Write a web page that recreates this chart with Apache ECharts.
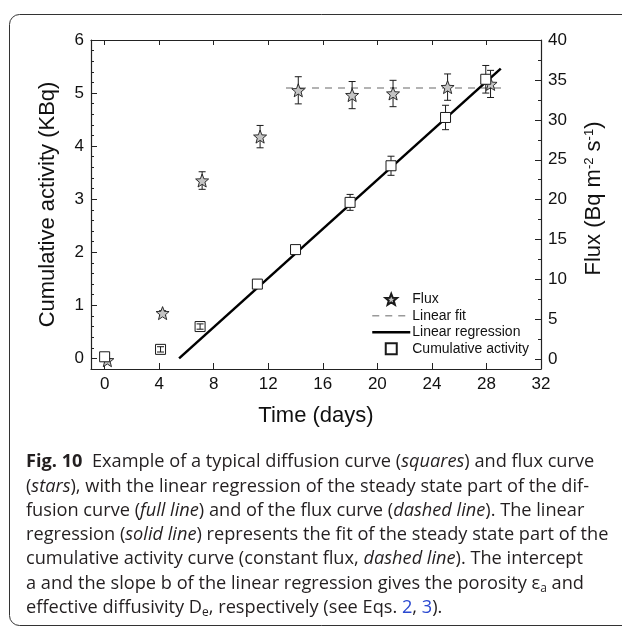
<!DOCTYPE html>
<html><head><meta charset="utf-8">
<script src="https://cdn.jsdelivr.net/npm/echarts@6/dist/echarts.min.js"></script>
<style>html,body{margin:0;padding:0;background:#fff}#c{width:622px;height:628px}</style>
</head><body><div id="c"></div>
<script>
// ---- data ----
const actDays   = [0.0, 4.1, 7.0, 11.2, 14.0, 18.0, 21.0, 25.0, 27.95];
const actValues = [0.03, 0.17, 0.60, 1.40, 2.05, 2.94, 3.63, 4.54, 5.26];
const actErrors = [0, 0.05, 0.05, 0.05, 0.06, 0.15, 0.18, 0.23, 0.26];
const actFront  = [false, true, true, false, false, false, false, false, false];
const fluxDays   = [0.2, 4.25, 7.15, 11.4, 14.2, 18.15, 21.15, 25.15, 28.3];
const fluxValues = [-0.1, 5.8, 22.4, 27.9, 33.7, 33.1, 33.3, 34.1, 34.5];
const fluxErrors = [0, 0.3, 1.1, 1.4, 1.7, 1.7, 1.65, 1.65, 1.7];
const fitX = [13.3, 29.5];
const fitY = [34.0, 34.0];
const regX = [5.46, 29.05];
const regY = [0, 5.46];
const legendNames = ['Flux', 'Linear fit', 'Linear regression', 'Cumulative activity'];
const captionLines = [
  '{b|Fig. 10}  Example of a typical diffusion curve ({i|squares}) and flux curve',
  '({i|stars}), with the linear regression of the steady state part of the dif-',
  'fusion curve ({i|full line}) and of the flux curve ({i|dashed line}). The linear',
  'regression ({i|solid line}) represents the fit of the steady state part of the',
  'cumulative activity curve (constant flux, {i|dashed line}). The intercept',
  'a and the slope b of the linear regression gives the porosity \u03b5{sub|a} and',
  'effective diffusivity D{sub|e}, respectively (see Eqs. {lk|2}, {lk|3}).'
];
const captionY = [462, 487, 511, 535, 559, 584, 608];

// ---- build ----
const FONT = 'Liberation Sans, Arial, sans-serif';
const CAPFONT = 'Open Sans, sans-serif';
const CAPSIZE = 18.2;
const STAR = 'path://M0,-10 L2.6,-3.4 L9.5,-3.1 L4.1,1.3 L6,8.1 L0,4.3 L-6,8.1 L-4.1,1.3 L-9.5,-3.1 L-2.6,-3.4 Z';
const SQUARE = 'path://M0,0 L10,0 L10,10 L0,10 Z';

function zip(a, b) { return a.map((v, i) => [v, b[i]]); }
function errData(xs, ys, es, filt) {
  const out = [];
  xs.forEach((x, i) => { if (es[i] > 0 && filt(i)) out.push([x, ys[i] - es[i], ys[i] + es[i]]); });
  return out;
}
function errRender(params, api) {
  const x = api.value(0), lo = api.value(1), hi = api.value(2);
  const p1 = api.coord([x, hi]), p2 = api.coord([x, lo]);
  const w = 3.5;
  const st = { stroke: '#1a1a1a', lineWidth: 1 };
  return { type: 'group', children: [
    { type: 'line', shape: { x1: p1[0], y1: p1[1], x2: p2[0], y2: p2[1] }, style: st },
    { type: 'line', shape: { x1: p1[0] - w, y1: p1[1], x2: p1[0] + w, y2: p1[1] }, style: st },
    { type: 'line', shape: { x1: p2[0] - w, y1: p2[1], x2: p2[0] + w, y2: p2[1] }, style: st }
  ]};
}

const axisLineStyle = { color: '#222', width: 1.2 };
const tickStyle = { color: '#222', width: 1 };
const labelStyle = { fontSize: 17, color: '#111', fontFamily: FONT };
const hidden = 'rgba(0,0,0,0)';

const chart = echarts.init(document.getElementById('c'));
chart.setOption({
  animation: false,
  backgroundColor: '#fff',
  textStyle: { fontFamily: FONT },
  grid: { left: 91, right: 81, top: 40, bottom: 259, containLabel: false },
  legend: {
    data: legendNames, orient: 'vertical', left: 366, top: 286,
    itemWidth: 38, itemHeight: 11, itemGap: 0,
    lineStyle: { width: 'inherit' },
    textStyle: { fontSize: 14, color: '#111', fontFamily: FONT, lineHeight: 16.5, padding: [0, 0, 0, -3] },
    selectedMode: false
  },
  xAxis: [{
    type: 'value', position: 'bottom', min: -1, max: 32, minInterval: 4, maxInterval: 4,
    axisLine: { onZero: false, lineStyle: axisLineStyle },
    axisTick: { inside: true, length: 6, lineStyle: tickStyle },
    axisLabel: Object.assign({ margin: 7, formatter: v => (v >= 0 && v % 4 === 0) ? String(Math.abs(v)) : '' }, labelStyle),
    splitLine: { show: false },
    name: 'Time (days)', nameLocation: 'middle', nameGap: 36,
    nameTextStyle: { fontSize: 22, color: '#111', fontFamily: FONT }
  }, {
    type: 'value', position: 'top', min: -1, max: 32, minInterval: 4, maxInterval: 4,
    axisLine: { onZero: false, lineStyle: axisLineStyle },
    axisTick: { inside: true, length: 5, lineStyle: tickStyle },
    axisLabel: { show: false }, splitLine: { show: false }
  }],
  yAxis: [{
    type: 'value', position: 'left', min: -0.2, max: 6, minInterval: 1, maxInterval: 1,
    axisLine: { show: true, onZero: false, lineStyle: axisLineStyle },
    axisTick: { show: true, inside: true, length: 6, lineStyle: tickStyle },
    minorTick: { show: true, splitNumber: 5, length: 3, lineStyle: tickStyle },
    axisLabel: Object.assign({ margin: 7, formatter: v => v >= 0 ? String(v) : '' }, labelStyle),
    splitLine: { show: false },
    name: 'Cumulative activity (KBq)', nameLocation: 'middle', nameGap: 32, nameRotate: 90,
    nameTextStyle: { fontSize: 22, color: '#111', fontFamily: FONT }
  }, {
    type: 'value', position: 'right', min: -1.2, max: 40, minInterval: 5, maxInterval: 5,
    axisLine: { show: true, onZero: false, lineStyle: axisLineStyle },
    axisTick: { show: true, inside: true, length: 6, lineStyle: tickStyle },
    minorTick: { show: true, splitNumber: 2, length: 3, lineStyle: tickStyle },
    axisLabel: Object.assign({ margin: 7, formatter: v => v >= 0 ? String(v) : '' }, labelStyle),
    splitLine: { show: false },
    name: 'Flux (Bq m{sup|-2} s{sup|-1})', nameLocation: 'middle', nameGap: 42, nameRotate: 90,
    nameTextStyle: { fontSize: 22, color: '#111', fontFamily: FONT, padding: [0, 0, 0, 12],
      rich: { sup: { fontSize: 13, color: '#111', fontFamily: FONT, padding: [0, 0, 9, 0] } } }
  }],
  series: [
    { name: 'Linear fit', type: 'line', yAxisIndex: 1, data: zip(fitX, fitY), symbol: 'none',
      lineStyle: { color: '#9a9a9a', width: 1.5, type: [7, 6] },
      itemStyle: { color: hidden, borderColor: hidden, borderWidth: 0 }, z: 1 },
    { name: 'Linear regression', type: 'line', yAxisIndex: 0, data: zip(regX, regY), symbol: 'none',
      lineStyle: { color: '#000', width: 2.5 },
      itemStyle: { color: hidden, borderColor: hidden, borderWidth: 0 }, z: 1 },
    { name: 'fluxErr', type: 'custom', yAxisIndex: 1, renderItem: errRender,
      data: errData(fluxDays, fluxValues, fluxErrors, () => true), encode: { x: 0, y: [1, 2] }, z: 2, silent: true },
    { name: 'Flux', type: 'scatter', yAxisIndex: 1, data: zip(fluxDays, fluxValues), symbol: STAR, symbolSize: 13,
      itemStyle: { color: '#c4c4c4', borderColor: '#1a1a1a', borderWidth: 0.9, opacity: 1 }, z: 3 },
    { name: 'actErrBack', type: 'custom', yAxisIndex: 0, renderItem: errRender,
      data: errData(actDays, actValues, actErrors, i => !actFront[i]), encode: { x: 0, y: [1, 2] }, z: 2, silent: true },
    { name: 'Cumulative activity', type: 'scatter', yAxisIndex: 0, data: zip(actDays, actValues), symbol: SQUARE, symbolSize: 10,
      itemStyle: { color: '#fff', borderColor: '#1a1a1a', borderWidth: 1, opacity: 1 }, z: 4 },
    { name: 'actErrFront', type: 'custom', yAxisIndex: 0, renderItem: errRender,
      data: errData(actDays, actValues, actErrors, i => actFront[i]), encode: { x: 0, y: [1, 2] }, z: 5, silent: true }
  ],
  graphic: [
    { type: 'rect', silent: true, shape: { x: 9.5, y: 14.5, width: 700, height: 611, r: 10 },
      style: { fill: 'none', stroke: '#333', lineWidth: 1 } }
  ].concat(captionLines.map((t, i) => ({
    type: 'text', silent: true, x: 26, y: captionY[i],
    style: {
      text: t, fill: '#231f20', fontSize: CAPSIZE, fontFamily: CAPFONT, verticalAlign: 'middle', align: 'left',
      rich: {
        b: { fontWeight: 'bold', fontSize: CAPSIZE, fontFamily: CAPFONT, fill: '#231f20' },
        i: { fontStyle: 'italic', fontSize: CAPSIZE, fontFamily: CAPFONT, fill: '#231f20' },
        sub: { fontSize: 12, fontFamily: CAPFONT, fill: '#231f20', padding: [10, 0, 0, 0] },
        lk: { fontSize: CAPSIZE, fontFamily: CAPFONT, fill: '#2b49d0' }
      }
    }
  })))
});
</script></body></html>
